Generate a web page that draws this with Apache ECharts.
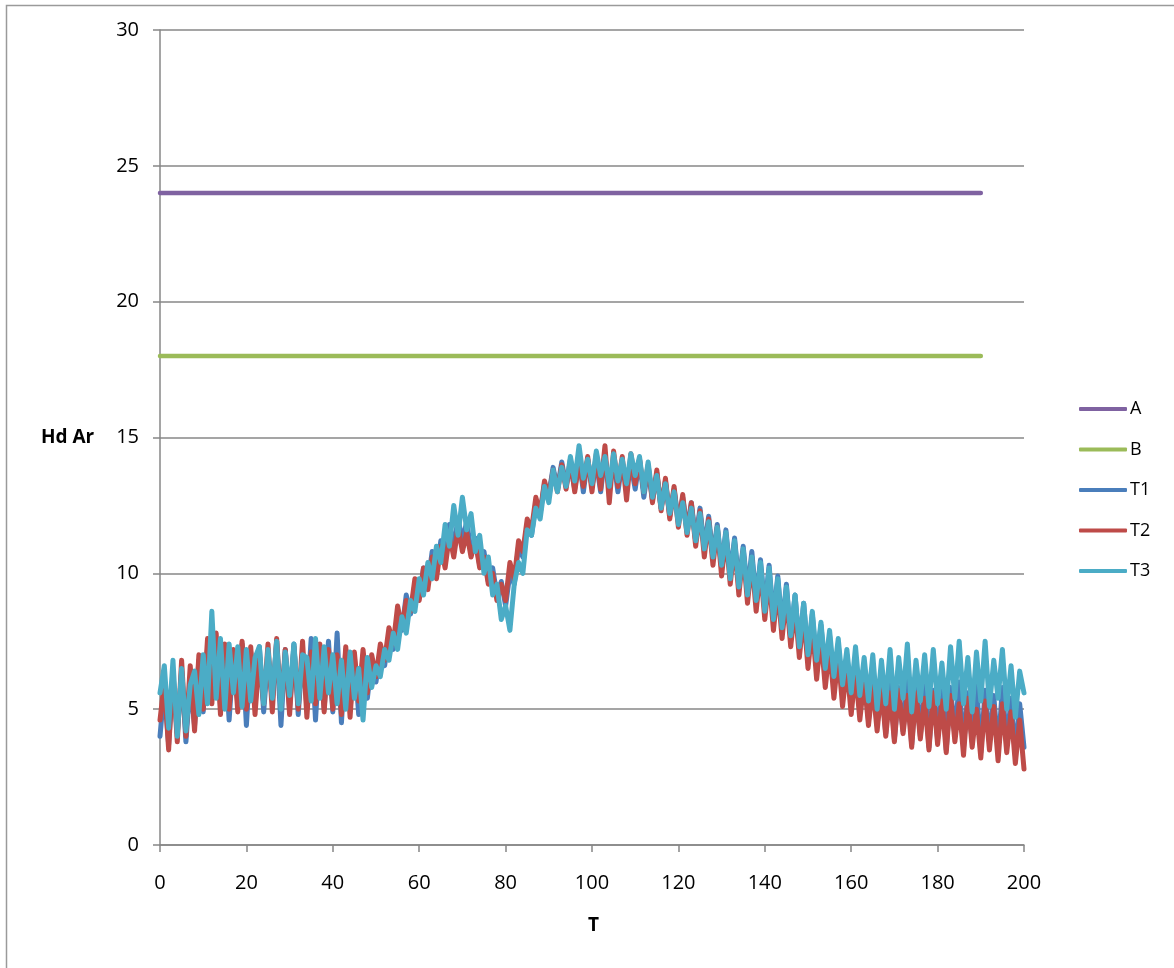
<!DOCTYPE html>
<html>
<head>
<meta charset="utf-8">
<script src="https://cdn.jsdelivr.net/npm/echarts@6/dist/echarts.min.js"></script>
<style>html,body{margin:0;padding:0;background:#fff}#c{width:1174px;height:968px}</style>
</head>
<body>
<div id="c"></div>
<script>
// T step of 1 from 0 to 200
const T_START = 0;
const T_STEP = 1;
const xTicks = [0, 20, 40, 60, 80, 100, 120, 140, 160, 180, 200];
const yTicks = [0, 5, 10, 15, 20, 25, 30];

const A_points = [[0, 24], [190, 24]];
const B_points = [[0, 18], [190, 18]];

const T1 = [
4.0,5.8,3.7,6.2,4.1,6.4,3.8,6.0,4.4,6.8,
4.9,7.2,5.5,7.6,5.1,7.3,4.6,7.0,5.2,7.4,
4.4,7.1,5.1,7.3,4.9,7.0,5.3,7.5,4.4,7.2,
5.0,7.4,4.8,7.1,5.1,7.6,4.6,7.3,5.0,7.5,
4.9,7.8,4.5,7.2,5.0,6.9,4.8,7.0,5.4,6.8,
6.0,7.2,6.6,7.8,7.2,8.5,7.9,9.2,8.5,9.6,
9.1,10.2,9.6,10.8,10.0,11.2,10.6,11.8,11.0,12.0,
11.2,11.9,10.8,11.3,10.3,10.8,9.7,10.2,9.2,9.7,
8.8,10.0,9.6,11.0,10.6,11.8,11.4,12.6,12.2,13.3,
12.9,13.9,13.1,14.1,13.2,14.0,13.1,14.3,13.0,14.2,
13.2,14.1,13.0,14.3,13.1,14.2,13.0,14.1,13.2,14.0,
13.1,14.2,12.8,13.9,12.7,13.7,12.4,13.4,12.1,13.1,
11.9,12.8,11.6,12.6,11.2,12.4,10.9,12.1,10.6,11.8,
10.2,11.6,9.9,11.3,9.6,11.0,9.3,10.8,9.0,10.5,
8.7,10.3,8.3,9.9,8.0,9.6,7.6,9.2,7.3,8.9,
6.9,8.5,6.5,8.1,6.2,7.7,5.8,7.4,5.5,7.0,
5.2,6.8,4.9,6.5,4.6,6.3,4.4,6.0,4.1,6.2,
3.9,5.8,4.2,6.1,3.7,5.9,4.0,6.0,3.6,5.7,
3.9,6.1,3.5,5.8,4.0,6.0,3.6,5.6,3.8,5.9,
3.4,5.7,3.8,5.5,3.5,5.8,3.7,5.4,3.3,5.2,
3.6
];

const T2 = [
4.6,6.0,3.5,6.4,3.8,6.8,4.0,6.6,4.2,7.0,
5.0,7.6,5.2,7.8,4.8,7.4,5.0,7.2,4.9,7.5,
5.0,7.3,4.8,7.0,5.2,7.4,4.9,7.6,5.1,7.2,
4.8,7.3,5.0,7.5,4.7,7.1,5.2,7.4,4.9,7.2,
5.0,7.0,4.8,7.3,4.7,7.1,5.3,7.2,5.6,7.0,
6.2,7.4,6.8,8.0,7.4,8.8,8.0,9.0,8.6,9.8,
9.0,10.2,9.4,10.6,9.8,11.0,10.2,11.4,10.6,11.7,
10.8,11.5,10.6,11.2,10.2,10.6,9.6,10.0,9.0,9.6,
9.0,10.4,9.8,11.2,10.8,12.0,11.6,12.8,12.2,13.4,
12.8,13.8,13.0,14.0,13.1,14.2,13.0,14.1,13.2,14.3,
13.0,14.4,13.1,14.7,12.6,14.5,13.2,14.3,12.7,14.4,
13.3,14.2,13.0,14.0,12.6,13.8,12.3,13.5,12.0,13.2,
11.7,12.9,11.4,12.6,11.0,12.3,10.6,12.0,10.3,11.7,
9.9,11.4,9.6,11.1,9.2,10.8,8.9,10.5,8.6,10.2,
8.3,9.9,7.9,9.5,7.6,9.2,7.3,8.8,6.9,8.5,
6.5,8.1,6.1,7.7,5.8,7.3,5.4,7.0,5.1,6.6,
4.8,6.4,4.6,6.1,4.4,5.9,4.2,5.8,4.0,5.6,
3.8,5.7,4.1,5.5,3.6,5.6,3.9,5.4,3.5,5.6,
3.7,5.3,3.4,5.5,3.8,5.2,3.3,5.4,3.6,5.0,
3.2,5.3,3.5,5.1,3.1,5.2,3.4,4.9,3.0,4.6,
2.8
];

const T3 = [
5.6,6.6,4.3,6.8,4.0,6.5,4.2,5.9,6.4,4.8,
7.0,5.2,8.6,5.4,7.6,5.0,7.4,5.6,7.3,5.1,
7.2,5.3,6.9,7.3,5.2,7.2,5.4,7.5,5.0,7.1,
5.5,7.4,5.2,7.0,6.9,5.3,7.6,5.4,7.3,5.6,
7.0,5.2,6.8,5.0,7.1,5.4,6.5,4.6,6.9,5.8,
6.6,6.2,7.2,6.8,7.8,7.2,8.4,7.8,9.0,8.6,
9.8,9.2,10.4,9.8,11.0,10.4,11.8,11.0,12.5,11.4,
12.8,11.6,12.2,10.8,11.4,10.0,10.6,9.2,9.6,8.3,
8.8,7.9,9.6,10.4,10.0,11.6,11.4,12.4,12.0,13.2,
12.6,13.8,13.0,13.9,13.2,14.3,13.4,14.7,13.5,14.2,
13.3,14.5,13.6,14.3,13.2,14.4,13.4,14.2,13.3,14.4,
13.6,14.3,13.0,14.1,12.8,13.6,12.4,13.3,12.2,13.0,
11.8,12.6,11.5,12.4,11.2,12.2,10.9,11.9,10.6,11.7,
10.3,11.5,9.8,11.2,9.5,10.9,9.2,10.6,9.0,10.4,
8.6,10.2,8.3,9.8,8.0,9.5,7.7,9.2,7.3,8.9,
7.0,8.6,6.8,8.2,6.5,7.9,6.2,7.6,5.9,7.2,
5.6,7.3,5.5,6.9,5.3,7.0,5.0,6.8,5.2,7.2,
5.0,6.9,5.4,7.4,4.9,6.8,5.3,7.0,5.1,7.2,
5.2,6.7,5.0,7.3,5.4,7.5,5.2,6.9,4.9,7.1,
5.3,7.5,5.1,6.8,5.4,7.2,5.0,6.6,4.7,6.4,
5.6
];

function toPairs(arr) {
  return arr.map((v, i) => [T_START + i * T_STEP, v]);
}

const FONT = '"Open Sans", "Noto Sans", sans-serif';
const AXIS_COLOR = '#878787';

const chart = echarts.init(document.getElementById('c'), null, {renderer: 'canvas'});
chart.setOption({
  animation: false,
  backgroundColor: '#ffffff',
  textStyle: {fontFamily: FONT},
  grid: {left: 160, right: 150, top: 30, bottom: 123, containLabel: false},
  xAxis: {
    type: 'value', min: 0, max: 200, interval: 20,
    axisLine: {show: true, onZero: false, lineStyle: {color: AXIS_COLOR, width: 1.5}},
    axisTick: {show: true, inside: false, length: 7, lineStyle: {color: AXIS_COLOR, width: 1.5}},
    axisLabel: {color: '#000', fontSize: 20, margin: 28, fontFamily: FONT,
      formatter: v => xTicks.includes(v) ? String(v) : ''},
    splitLine: {show: false}
  },
  yAxis: {
    type: 'value', min: 0, max: 30, interval: 5,
    axisLine: {show: true, lineStyle: {color: AXIS_COLOR, width: 1.5}},
    axisTick: {show: true, inside: false, length: 7, lineStyle: {color: AXIS_COLOR, width: 1.5}},
    axisLabel: {color: '#000', fontSize: 20, margin: 21, fontFamily: FONT,
      formatter: v => yTicks.includes(v) ? String(v) : ''},
    splitLine: {show: true, lineStyle: {color: AXIS_COLOR, width: 1.5}}
  },
  legend: {
    orient: 'vertical', left: 1079, top: 400, padding: 0,
    itemWidth: 48, itemHeight: 4, itemGap: 22.5,
    icon: 'roundRect',
    textStyle: {color: '#000', fontSize: 18, fontFamily: FONT, lineHeight: 18, padding: [0, 0, 0, -2]},
    data: ['A', 'B', 'T1', 'T2', 'T3']
  },
  graphic: [
    {type: 'rect', shape: {x: 6.5, y: 5.5, width: 1200, height: 1000},
      style: {fill: null, stroke: '#9a9a9a', lineWidth: 1.5}, silent: true, z: -1},
    {type: 'text', left: 41, top: 428,
      style: {text: 'Hd Ar', font: 'bold 19px ' + FONT, fill: '#000'}},
    {type: 'text', left: 588, top: 916,
      style: {text: 'T', font: 'bold 19px ' + FONT, fill: '#000'}}
  ],
  series: [
    {name: 'A', type: 'line', data: A_points, showSymbol: false, symbol: 'none',
      color: '#7F62A1', lineStyle: {width: 4.5, cap: 'round'}},
    {name: 'B', type: 'line', data: B_points, showSymbol: false, symbol: 'none',
      color: '#9BBB59', lineStyle: {width: 4.5, cap: 'round'}},
    {name: 'T1', type: 'line', data: toPairs(T1), showSymbol: false, symbol: 'none',
      color: '#4A7EBB', lineStyle: {width: 5, join: 'round', cap: 'round'}},
    {name: 'T2', type: 'line', data: toPairs(T2), showSymbol: false, symbol: 'none',
      color: '#BE4B48', lineStyle: {width: 5, join: 'round', cap: 'round'}},
    {name: 'T3', type: 'line', data: toPairs(T3), showSymbol: false, symbol: 'none',
      color: '#4BACC6', lineStyle: {width: 5, join: 'round', cap: 'round'}}
  ]
});
</script>
</body>
</html>
